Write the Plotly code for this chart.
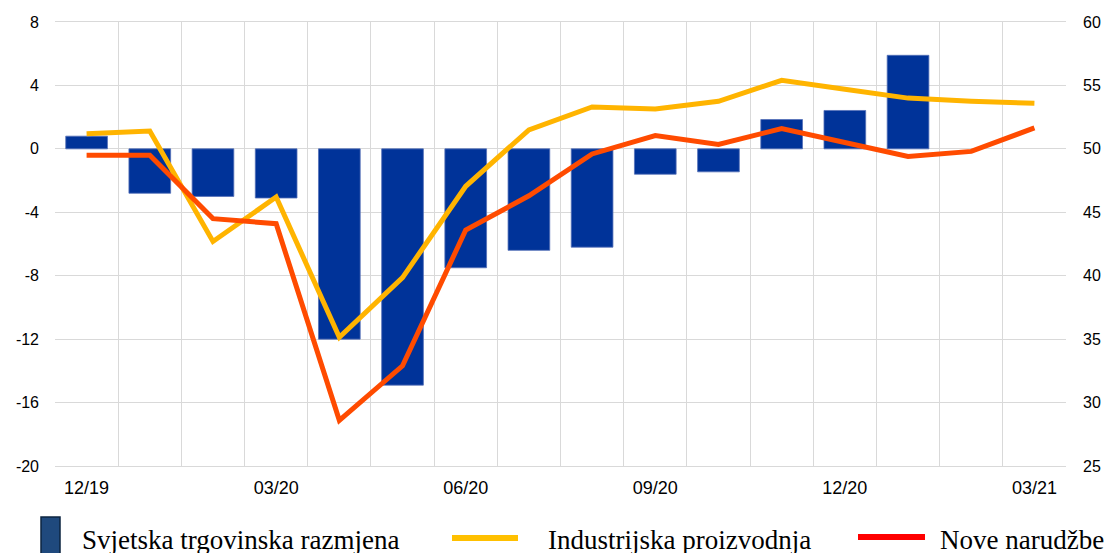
import plotly.graph_objects as go

# ---- data ----
months = ["12/19", "01/20", "02/20", "03/20", "04/20", "05/20", "06/20", "07/20",
          "08/20", "09/20", "10/20", "11/20", "12/20", "01/21", "02/21", "03/21"]
tick_labels = ["12/19", "", "", "03/20", "", "", "06/20", "", "", "09/20", "", "", "12/20", "", "", "03/21"]

trade_months = months[:14]
trade = [0.8, -2.8, -3.0, -3.1, -12.0, -14.9, -7.5, -6.4, -6.2, -1.6, -1.45, 1.85, 2.42, 5.9]

industrial = [51.2, 51.4, 42.7, 46.2, 35.15, 39.85, 47.05, 51.5, 53.3, 53.15, 53.75,
              55.4, 54.7, 54.0, 53.75, 53.6]
new_orders = [49.5, 49.5, 44.5, 44.1, 28.6, 32.9, 43.6, 46.3, 49.6, 51.05, 50.35,
              51.6, 50.5, 49.4, 49.8, 51.65]

legend_names = ["Svjetska trgovinska razmjena", "Industrijska proizvodnja", "Nove narudžbe"]

left_ticks = [-20, -16, -12, -8, -4, 0, 4, 8]
right_ticks = [25, 30, 35, 40, 45, 50, 55, 60]

# ---- figure ----
W, H = 1109, 553
ML, MR, MT, MB = 55, 43, 22, 87
pw, ph = W - ML - MR, H - MT - MB

def px_x(p):
    return (p - ML) / pw

def px_y(p):
    return (H - MB - p) / ph

fig = go.Figure()
fig.add_trace(go.Bar(
    x=trade_months, y=trade, name=legend_names[0], width=0.66,
    marker=dict(color="#003399", line=dict(color="#5470b8", width=0.8)),
    showlegend=False, yaxis="y"))
fig.add_trace(go.Scatter(
    x=months, y=industrial, name=legend_names[1], mode="lines",
    line=dict(color="#FFB400", width=5), showlegend=False, yaxis="y2"))
fig.add_trace(go.Scatter(
    x=months, y=new_orders, name=legend_names[2], mode="lines",
    line=dict(color="#FF4B00", width=5), showlegend=False, yaxis="y2"))

grid = "#d9d9d9"
tickfont = dict(family="Liberation Sans, Arial, sans-serif", size=16, color="#000000")

fig.update_layout(
    width=W, height=H,
    margin=dict(l=ML, r=MR, t=MT, b=MB, pad=0, autoexpand=False),
    plot_bgcolor="white", paper_bgcolor="white",
    bargap=0.34,
    xaxis=dict(
        type="category", categoryorder="array", categoryarray=months,
        range=[-0.5, len(months) - 0.5],
        tickmode="array", tickvals=months, ticktext=tick_labels,
        tickson="boundaries", ticks="", showgrid=True, gridcolor=grid, gridwidth=1,
        showline=True, linecolor=grid, mirror=True,
        tickfont=dict(family="Liberation Sans, Arial, sans-serif", size=18, color="#000000"),
        ticklabelstandoff=5,
    ),
    yaxis=dict(
        range=[-20, 8], tickvals=left_ticks, ticktext=[str(v) for v in left_ticks],
        showgrid=True, gridcolor=grid, gridwidth=1,
        zeroline=False, ticks="", tickfont=tickfont, ticklabelstandoff=15,
    ),
    yaxis2=dict(
        range=[25, 60], tickvals=right_ticks, ticktext=[str(v) for v in right_ticks],
        overlaying="y", side="right",
        showgrid=False, zeroline=False, ticks="", tickfont=tickfont, ticklabelstandoff=16,
    ),
)

# ---- manual legend ----
legfont = dict(family="Liberation Serif, Times New Roman, serif", size=27, color="#000000")
shapes = [
    dict(type="rect", xref="paper", yref="paper",
         x0=px_x(41), x1=px_x(60), y0=px_y(517), y1=px_y(560),
         fillcolor="#1F497D", line=dict(color="#0d2440", width=1.5)),
    dict(type="line", xref="paper", yref="paper",
         x0=px_x(452), x1=px_x(518), y0=px_y(538), y1=px_y(538),
         line=dict(color="#FFC000", width=6)),
    dict(type="line", xref="paper", yref="paper",
         x0=px_x(858), x1=px_x(925), y0=px_y(537), y1=px_y(537),
         line=dict(color="#FF0000", width=6)),
]
for s in shapes:
    fig.add_shape(**s)

for name, xl in zip(legend_names, [81, 547, 939]):
    fig.add_annotation(text=name, xref="paper", yref="paper", x=px_x(xl), y=px_y(540),
                       xanchor="left", yanchor="middle", showarrow=False, font=legfont,
                       borderpad=0)

fig.write_html("out.html", config={"displayModeBar": False},
               post_script="document.body.style.margin='0';document.body.style.overflow='hidden';")
